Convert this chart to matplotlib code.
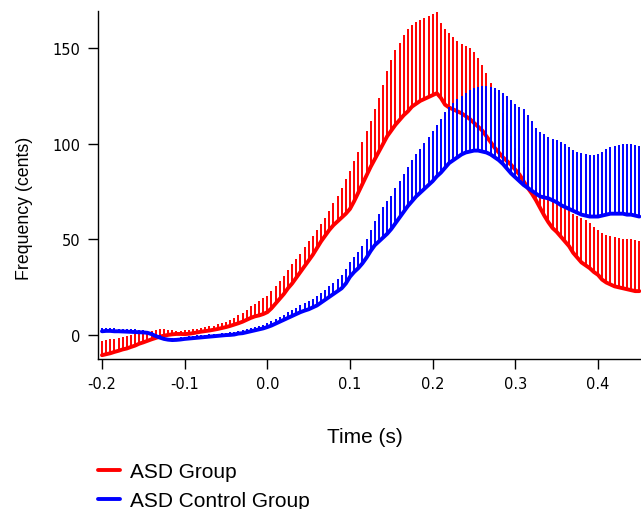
#!/usr/bin/env python3
# -*- coding: utf-8 -*-

import matplotlib
matplotlib.use('Agg')
import matplotlib.pyplot as plt
import numpy as np


# time axis, one sample every 5 ms from -0.2 s to 0.45 s
t_start, t_step, n_pts = -0.2, 0.005, 131

asd_mean = [
    -10.5, -10, -9.5, -8.8, -8.2, -7.5, -7, -6.2, -5.5, -4.5,
    -3.8, -3, -2.2, -1.5, -0.8, -0.3, 0.1, 0.4, 0.6, 0.6,
    0.5, 0.7, 1.0, 1.4, 1.8, 2.1, 2.4, 2.8, 3.2, 3.7,
    4.2, 4.8, 5.5, 6.2, 7.0, 8.0, 9.0, 9.8, 10.3, 11.0,
    12.0, 14, 16.5, 19, 21.5, 24.5, 27, 30, 33, 36,
    39, 42, 45.5, 49, 52, 55, 57.5, 59.5, 61.5, 63.5,
    66, 70, 74.5, 79, 83.5, 88, 92, 96, 100, 104,
    107, 110, 112.5, 115, 117, 119.5, 121, 122.5, 123.5, 124.5,
    125.5, 126.5, 124, 120.5, 119, 118, 117, 116, 114.5, 113,
    111, 109, 107, 104, 101, 98, 95.5, 93, 91, 89,
    86.5, 84, 80.5, 77, 74, 70.5, 66.5, 62.5, 59, 56,
    54, 51.5, 49, 46.5, 43, 40.5, 38, 36.5, 35, 33,
    31.5, 29, 27.5, 26.5, 25.5, 25, 24.5, 24, 23.5, 23,
    23,
]

asd_upper = [
    -3, -2.6, -2.2, -1.8, -1.4, -1, -0.5, 0, 0.4, 0.8,
    1.2, 1.7, 2.2, 2.7, 3, 3, 2.8, 2.5, 2.3, 2.3,
    2.5, 2.8, 3.1, 3.4, 3.7, 4.1, 4.5, 5, 5.6, 6.3,
    7, 8, 9, 10.3, 11.8, 13.3, 15, 16.5, 18, 19.3,
    20.5, 23, 25.5, 28.5, 31, 34, 37, 40, 42.5, 46,
    49, 52, 55, 58, 61.5, 65, 69, 73, 77, 81.5,
    86, 91, 96, 101, 106.5, 112, 118, 124, 131, 138,
    144, 149, 153, 157, 160, 162, 164, 165, 166, 167,
    168, 169, 163, 160, 158, 156, 154, 152, 151, 150,
    148, 145, 141, 137, 132, 127, 122, 116, 110, 104,
    98, 93, 88, 84, 80, 77, 74, 72, 71, 70.5,
    70, 69, 67.5, 65.5, 63.5, 62.5, 61.5, 60, 58.5, 56.5,
    55, 53.5, 52.5, 52, 51.5, 51, 50.5, 50, 50, 49.5,
    49,
]

ctrl_mean = [
    2.0, 2.2, 2.2, 2.0, 2.0, 1.9, 1.8, 1.7, 1.6, 1.5,
    1.4, 1.2, 0.5, -0.5, -1.3, -2.0, -2.4, -2.6, -2.5, -2.3,
    -2.0, -1.8, -1.6, -1.4, -1.2, -1.0, -0.8, -0.6, -0.4, -0.2,
    0.0, 0.1, 0.3, 0.8, 1.0, 1.5, 2.0, 2.5, 3.0, 3.5,
    4.2, 5.0, 6.0, 7.0, 8.0, 9.0, 10.0, 11.0, 12.0, 12.8,
    13.5, 14.5, 15.5, 17.0, 18.5, 20.0, 21.5, 23.0, 24.5, 27.0,
    30.5, 33.0, 35.0, 37.5, 40.5, 44.0, 47.0, 49.0, 51.0, 53.0,
    55.5, 58.5, 61.5, 64.5, 67.5, 70.0, 72.5, 74.5, 76.5, 78.5,
    80.5, 83.0, 85.0, 87.5, 90.0, 91.5, 93.0, 94.5, 95.5, 96.0,
    96.5, 96.5, 96.0, 95.5, 94.5, 93.0, 91.5, 89.5, 87.0, 84.5,
    82.5, 80.5, 78.5, 77.0, 75.5, 74.0, 72.5, 72.0, 71.5, 70.5,
    69.5, 68.0, 67.0, 66.0, 65.0, 64.0, 63.0, 62.5, 62.0, 62.0,
    62.0, 62.5, 63.0, 63.5, 63.5, 63.5, 63.5, 63.0, 63.0, 62.5,
    62.0,
]

ctrl_upper = [
    3.5, 3.7, 3.7, 3.5, 3.4, 3.3, 3.2, 3.1, 3.0, 2.8,
    2.6, 2.4, 1.7, 0.7, -0.2, -0.9, -1.3, -1.5, -1.4, -1.2,
    -0.9, -0.6, -0.4, -0.2, 0.0, 0.2, 0.4, 0.6, 0.8, 1.0,
    1.3, 1.5, 1.8, 2.3, 2.6, 3.1, 3.7, 4.2, 4.8, 5.4,
    6.2, 7.2, 8.3, 9.5, 10.7, 11.9, 13.1, 14.3, 15.5, 16.6,
    17.6, 18.9, 20.3, 22.0, 23.8, 25.6, 27.4, 29.3, 31.3, 34.5,
    38.0, 41.0, 43.5, 46.5, 50.5, 55.0, 59.5, 63.5, 67.0, 70.0,
    73.0, 77.0, 80.5, 84.0, 88.0, 91.5, 94.5, 97.5, 100.5, 103.5,
    106.5, 110.0, 113.0, 116.5, 119.5, 121.5, 123.5, 125.0, 126.5, 128.0,
    129.0, 130.0, 130.5, 130.5, 130.0, 129.0, 128.0, 126.5, 125.0, 123.0,
    121.0, 119.5, 118.0, 115.0, 112.0, 108.5, 106.0, 105.0, 103.5, 102.5,
    102.0, 101.0, 100.0, 98.5, 97.0, 96.0, 95.0, 94.5, 94.0, 94.0,
    94.5, 96.0, 97.5, 98.5, 99.0, 99.5, 100.0, 100.0, 100.0, 99.5,
    99.0,
]

labels = ['ASD Group', 'ASD Control Group']
colors = ['#ff0000', '#0000ff']
x_ticks = [-0.2, -0.1, 0.0, 0.1, 0.2, 0.3, 0.4]
y_ticks = [0, 50, 100, 150]


def main():
    t = t_start + t_step * np.arange(n_pts)

    fig = plt.figure(figsize=(6.41, 5.10), dpi=100)
    ax = fig.add_axes([98 / 641, 1 - 360 / 510, 543 / 641, 348 / 510])

    series = [(asd_mean, asd_upper), (ctrl_mean, ctrl_upper)]
    for (mean, upper), color, label in zip(series, colors, labels):
        ax.vlines(t, mean, upper, color=color, lw=1.4)
        ax.plot(t, mean, color=color, lw=2.8, label=label,
                solid_capstyle='round', solid_joinstyle='round')

    ax.set_xlim(-0.2048, 0.452)
    ax.set_ylim(-12.5, 169.5)
    ax.set_xticks(x_ticks)
    ax.set_xticklabels(['%.1f' % v for v in x_ticks])
    ax.set_yticks(y_ticks)

    for side in ('top', 'right'):
        ax.spines[side].set_visible(False)
    for side in ('left', 'bottom'):
        ax.spines[side].set_linewidth(1.0)
    ax.tick_params(direction='out', length=7.5, width=1.0, pad=5,
                   labelsize=10.5)

    ax.set_xlabel('Time (s)', family='Liberation Sans', size=15)
    ax.xaxis.set_label_coords(0.492, -0.195)
    ax.set_ylabel('Frequency (cents)', family='Liberation Sans', size=12.8)
    ax.yaxis.set_label_coords(-0.12, 0.437)

    fig.legend(loc='upper left', bbox_to_anchor=(98 / 641, 1 - 463 / 510),
               frameon=False, prop={'family': 'Liberation Sans', 'size': 15},
               handlelength=1.05, handletextpad=0.5, labelspacing=0.5,
               borderaxespad=0, borderpad=0)

    fig.savefig('out.png', dpi=100)


if __name__ == '__main__':
    main()
